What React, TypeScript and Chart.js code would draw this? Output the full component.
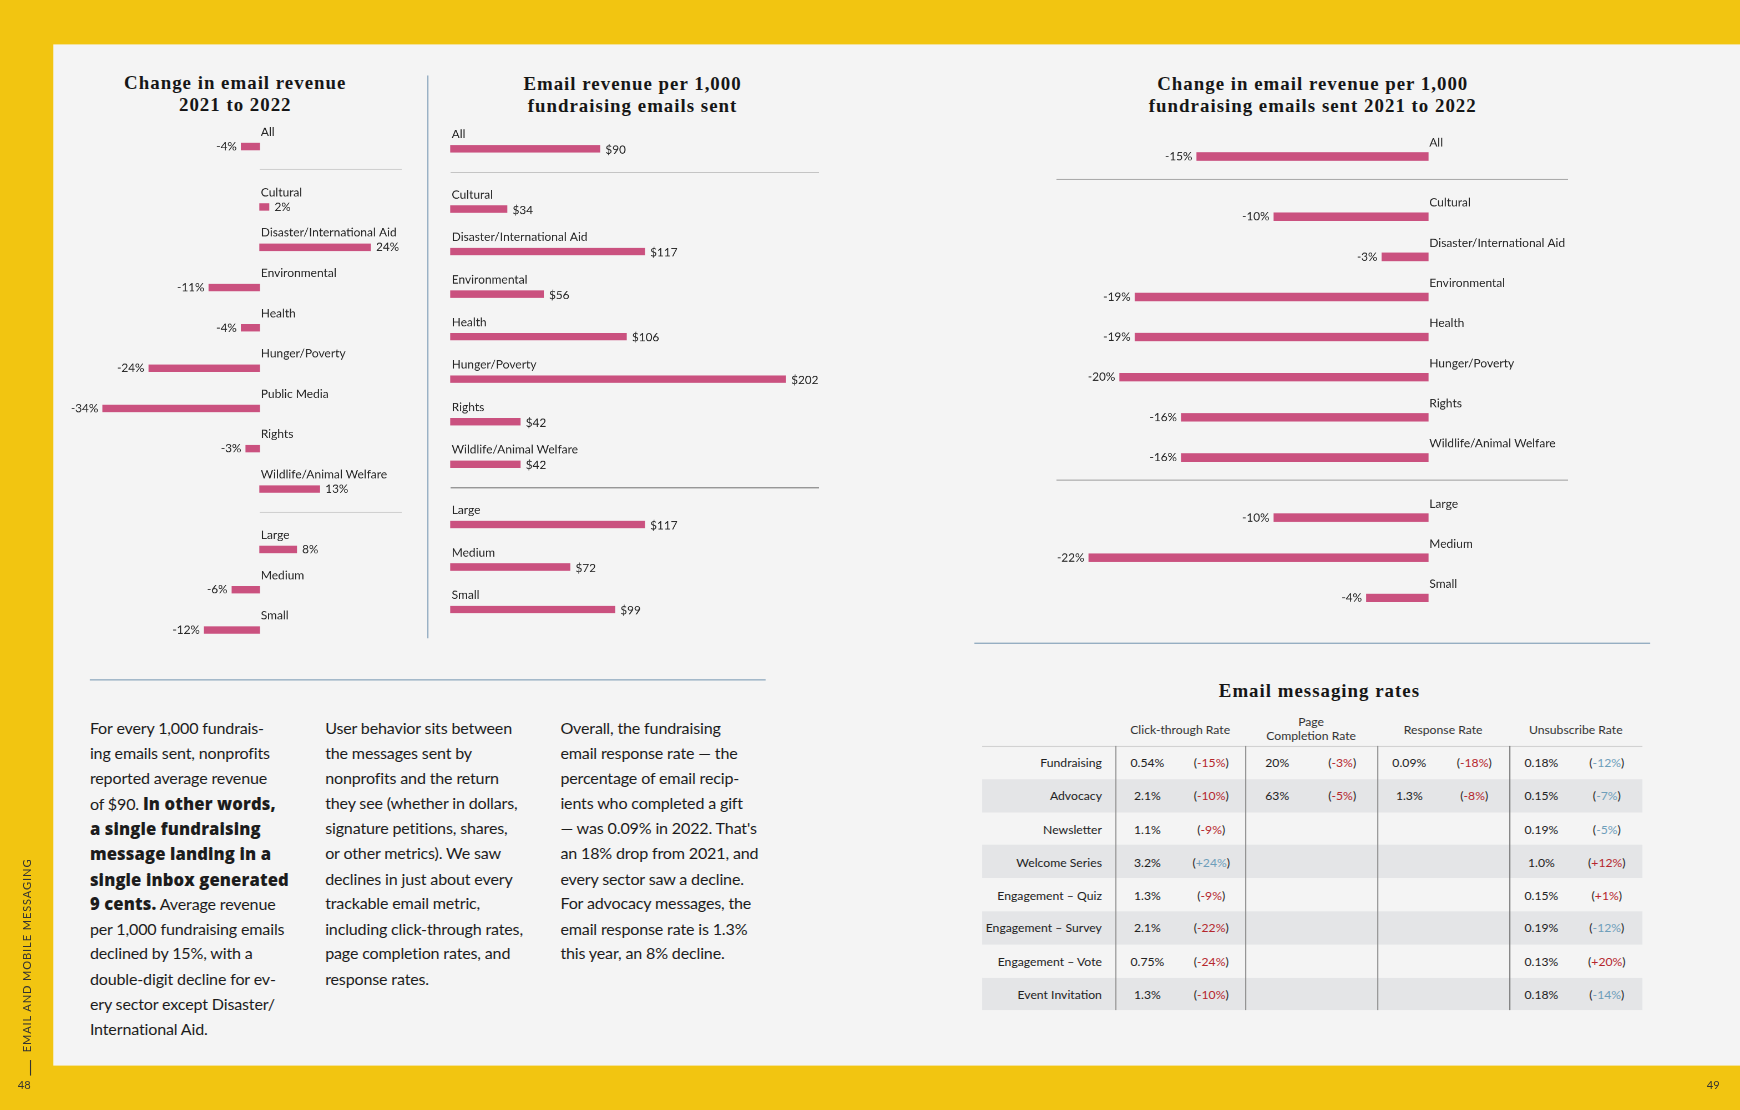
import React, { useEffect, useRef } from "react";
import { Chart, registerables } from "chart.js";
Chart.register(...registerables);

// ---------- DATA ----------
const revenueChangeCategories = [
  "All", "Cultural", "Disaster/International Aid", "Environmental", "Health",
  "Hunger/Poverty", "Public Media", "Rights", "Wildlife/Animal Welfare",
  "Large", "Medium", "Small",
];
const revenueChangeGroups = [0, 1, 1, 1, 1, 1, 1, 1, 1, 2, 2, 2];
const revenueChangeValues = [-4, 2, 24, -11, -4, -24, -34, -3, 13, 8, -6, -12];

const perThousandCategories = [
  "All", "Cultural", "Disaster/International Aid", "Environmental", "Health",
  "Hunger/Poverty", "Rights", "Wildlife/Animal Welfare", "Large", "Medium", "Small",
];
const perThousandGroups = [0, 1, 1, 1, 1, 1, 1, 1, 2, 2, 2];
const perThousandValues = [90, 34, 117, 56, 106, 202, 42, 42, 117, 72, 99];

const perThousandChangeValues = [-15, -10, -3, -19, -19, -20, -16, -16, -10, -22, -4];

const rateRows = [
  "Fundraising", "Advocacy", "Newsletter", "Welcome Series", "Engagement – Quiz",
  "Engagement – Survey", "Engagement – Vote", "Event Invitation",
];
const rateColumns = [["Click-through Rate"], ["Page", "Completion Rate"], ["Response Rate"], ["Unsubscribe Rate"]];
const rateLowerIsBetter = [false, false, false, true];
const clickThroughValues = ["0.54%", "2.1%", "1.1%", "3.2%", "1.3%", "2.1%", "0.75%", "1.3%"];
const clickThroughChanges = [-15, -10, -9, 24, -9, -22, -24, -10];
const pageCompletionValues = ["20%", "63%", null, null, null, null, null, null];
const pageCompletionChanges = [-3, -5, null, null, null, null, null, null];
const responseValues = ["0.09%", "1.3%", null, null, null, null, null, null];
const responseChanges = [-18, -8, null, null, null, null, null, null];
const unsubscribeValues = ["0.18%", "0.15%", "0.19%", "1.0%", "0.15%", "0.19%", "0.13%", "0.18%"];
const unsubscribeChanges = [-12, -7, -5, 12, 1, -12, 20, -14];

// ---------- STYLE ----------
const YELLOW = "#F2C511";
const PAGE = "#F4F4F4";
const BAR = "#CA517F";
const RULE = "#7F9DB6";
const TEXT = "#1c1c1c";
const SANS = "Lato, 'Open Sans', sans-serif";
const BOLD_SANS = "'Open Sans', Lato, sans-serif";
const SERIF = "'Liberation Serif', 'DejaVu Serif', serif";
const RED = "#B5272D";
const BLUE = "#6E9EBA";

type PanelLayout = {
  left: number; top: number; width: number; height: number;
  zeroX: number; unitPx: number; firstBar: number; pitch: number; gap: number;
  barThickness: number; labelOffset: number; valueOffset: number;
  sepX: [number, number]; sepColors: string[]; sepFrac: number;
};

function BarPanel(props: {
  categories: string[]; values: number[]; groups: number[];
  format: (v: number) => string; layout: PanelLayout;
}) {
  const ref = useRef<HTMLCanvasElement>(null);
  const { categories, values, groups, format, layout: L } = props;
  useEffect(() => {
    const positions = groups.map((g, i) => i + g * (L.gap - 1));
    const xMin = (L.left - L.zeroX) / L.unitPx;
    const xMax = (L.left + L.width - L.zeroX) / L.unitPx;
    const yMin = (L.top - L.firstBar) / L.pitch;
    const yMax = (L.top + L.height - L.firstBar) / L.pitch;
    const labelPlugin = {
      id: "rowLabels",
      afterDatasetsDraw(chart: any) {
        const ctx = chart.ctx as CanvasRenderingContext2D;
        const xs = chart.scales.x, ys = chart.scales.y;
        const zero = xs.getPixelForValue(0);
        ctx.save();
        for (let i = 1; i < groups.length; i++) {
          if (groups[i] !== groups[i - 1]) {
            const p = positions[i - 1] + L.sepFrac * (positions[i] - positions[i - 1]);
            const py = Math.round(ys.getPixelForValue(p)) + 0.5;
            ctx.strokeStyle = L.sepColors[groups[i] - 1] || L.sepColors[0];
            ctx.lineWidth = 1;
            ctx.beginPath();
            ctx.moveTo(L.sepX[0] - L.left, py);
            ctx.lineTo(L.sepX[1] - L.left, py);
            ctx.stroke();
          }
        }
        const meta = chart.getDatasetMeta(0);
        meta.data.forEach((_el: any, i: number) => {
          const v = values[i];
          const px = xs.getPixelForValue(v);
          const py = ys.getPixelForValue(positions[i]);
          ctx.fillStyle = "#262626";
          ctx.textBaseline = "middle";
          ctx.font = `10.8px ${SANS}`;
          ctx.textAlign = "left";
          ctx.fillText(categories[i], zero + 1, py + L.labelOffset);
          ctx.font = `10.6px ${SANS}`;
          if (v < 0) {
            ctx.textAlign = "right";
            ctx.fillText(format(v), px - 4, py + L.valueOffset);
          } else {
            ctx.textAlign = "left";
            ctx.fillText(format(v), px + 5, py + L.valueOffset);
          }
        });
        ctx.restore();
      },
    };
    const chart = new Chart(ref.current as HTMLCanvasElement, {
      type: "bar",
      data: {
        datasets: [{
          data: values.map((v, i) => ({ x: v, y: positions[i] })) as any,
          backgroundColor: BAR,
          borderWidth: 0,
          barThickness: L.barThickness,
        }],
      },
      options: {
        indexAxis: "y",
        animation: false,
        responsive: true,
        maintainAspectRatio: false,
        devicePixelRatio: 2,
        events: [],
        layout: { padding: 0 },
        plugins: { legend: { display: false }, tooltip: { enabled: false } },
        scales: {
          x: { type: "linear", min: xMin, max: xMax, display: false, offset: false, grace: 0 },
          y: { type: "linear", reverse: true, min: yMin, max: yMax, display: false, offset: false, grace: 0, grid: { offset: false } },
        },
      } as any,
      plugins: [labelPlugin],
    });
    return () => chart.destroy();
  }, []);
  return (
    <div style={{ position: "absolute", left: L.left, top: L.top, width: L.width, height: L.height }}>
      <canvas ref={ref} />
    </div>
  );
}

const pct = (v: number) => `${v}%`;
const usd = (v: number) => `$${v}`;

function Title(props: { lines: string[]; cx: number; top: number; width: number }) {
  return (
    <div style={{
      position: "absolute", left: props.cx - props.width / 2, top: props.top, width: props.width,
      textAlign: "center", fontFamily: SERIF, fontWeight: 700, fontSize: 17, lineHeight: "20px",
      letterSpacing: 0.9, color: "#161616",
    }}>
      {props.lines.map((l, i) => <div key={i}>{l}</div>)}
    </div>
  );
}

type Seg = [string, boolean];
function TextColumn(props: { lines: Seg[][]; left: number; top: number }) {
  return (
    <div style={{
      position: "absolute", left: props.left, top: props.top, fontFamily: SANS, fontSize: 14.5,
      color: TEXT, whiteSpace: "nowrap", letterSpacing: -0.15,
    }}>
      {props.lines.map((segs, i) => (
        <div key={i} style={{ position: "absolute", left: 0, top: i * 22.6, height: 22.6, lineHeight: "22.6px" }}>
          {segs.map(([t, b], j) => (
            <span key={j} style={b ? { fontFamily: BOLD_SANS, fontWeight: 800, fontSize: 15, letterSpacing: 0.1, lineHeight: "22.6px" } : undefined}>{t}</span>
          ))}
        </div>
      ))}
    </div>
  );
}

const col1: Seg[][] = [
  [["For every 1,000 fundrais-", false]],
  [["ing emails sent, nonprofits", false]],
  [["reported average revenue", false]],
  [["of $90. ", false], ["In other words,", true]],
  [["a single fundraising", true]],
  [["message landing in a", true]],
  [["single inbox generated", true]],
  [["9 cents.", true], [" Average revenue", false]],
  [["per 1,000 fundraising emails", false]],
  [["declined by 15%, with a", false]],
  [["double-digit decline for ev-", false]],
  [["ery sector except Disaster/", false]],
  [["International Aid.", false]],
];
const col2: Seg[][] = [
  "User behavior sits between", "the messages sent by", "nonprofits and the return",
  "they see (whether in dollars,", "signature petitions, shares,", "or other metrics). We saw",
  "declines in just about every", "trackable email metric,", "including click-through rates,",
  "page completion rates, and", "response rates.",
].map((t) => [[t, false] as Seg]);
const col3: Seg[][] = [
  "Overall, the fundraising", "email response rate — the", "percentage of email recip-",
  "ients who completed a gift", "— was 0.09% in 2022. That's", "an 18% drop from 2021, and",
  "every sector saw a decline.", "For advocacy messages, the", "email response rate is 1.3%",
  "this year, an 8% decline.",
].map((t) => [[t, false] as Seg]);

function RatesTable() {
  const colVals = [clickThroughValues, pageCompletionValues, responseValues, unsubscribeValues];
  const colChg = [clickThroughChanges, pageCompletionChanges, responseChanges, unsubscribeChanges];
  const labelW = 120;
  const colW = [117, 119, 119, 120];
  const rowH = 29.8;
  const headH = 32;
  const left = 885, top = 640;
  const totalW = labelW + colW.reduce((a, b) => a + b, 0);
  const cellStyle: React.CSSProperties = { fontFamily: SANS, fontSize: 11, color: "#222" };
  const colLefts = colW.map((_, i) => labelW + colW.slice(0, i).reduce((a, b) => a + b, 0));
  return (
    <div style={{ position: "absolute", left, top, width: totalW, height: headH + rowH * rateRows.length }}>
      {rateColumns.map((lines, c) => (
        <div key={c} style={{
          ...cellStyle, position: "absolute", left: colLefts[c], top: 0, width: colW[c], height: headH,
          display: "flex", flexDirection: "column", justifyContent: "center", alignItems: "center",
          lineHeight: "13px", color: "#333",
        }}>
          {lines.map((l, i) => <div key={i}>{l}</div>)}
        </div>
      ))}
      <div style={{ position: "absolute", left: 0, top: headH, width: totalW, height: 1, background: "#D2D2D2" }} />
      {rateRows.map((r, i) => (
        <div key={r} style={{
          position: "absolute", left: 0, top: headH + i * rowH, width: totalW, height: rowH,
          background: i % 2 === 1 ? "#E4E5E7" : "transparent",
        }}>
          <div style={{
            ...cellStyle, position: "absolute", left: 0, top: 0, width: labelW - 12, height: rowH,
            display: "flex", alignItems: "center", justifyContent: "flex-end",
          }}>{r}</div>
          {colVals.map((vals, c) => {
            const v = vals[i];
            const ch = colChg[c][i];
            if (v == null || ch == null) return null;
            const good = rateLowerIsBetter[c] ? ch < 0 : ch > 0;
            return (
              <div key={c} style={{ position: "absolute", left: colLefts[c], top: 0, width: colW[c], height: rowH }}>
                <div style={{
                  ...cellStyle, position: "absolute", left: 0, top: 0, width: 58, height: rowH,
                  display: "flex", alignItems: "center", justifyContent: "center",
                }}>{v}</div>
                <div style={{
                  ...cellStyle, position: "absolute", left: 56, top: 0, width: colW[c] - 56, height: rowH,
                  display: "flex", alignItems: "center", justifyContent: "center",
                }}>
                  <span>(</span>
                  <span style={{ color: good ? BLUE : RED }}>{`${ch > 0 ? "+" : ""}${ch}%`}</span>
                  <span>)</span>
                </div>
              </div>
            );
          })}
        </div>
      ))}
      {colLefts.map((x, c) => (
        <div key={c} style={{
          position: "absolute", left: x, top: headH, width: 1, height: rowH * rateRows.length,
          background: c === 3 ? "#6f6f6f" : "#8e8e8e",
        }} />
      ))}
    </div>
  );
}

export default function App() {
  useEffect(() => {
    document.body.style.margin = "0";
  }, []);
  const chart1: PanelLayout = {
    left: 60, top: 100, width: 320, height: 490, zeroX: 234, unitPx: 4.16,
    firstBar: 132, pitch: 36.3, gap: 1.5, barThickness: 6, labelOffset: -13, valueOffset: 0,
    sepX: [234, 362], sepColors: ["#D0D0D0", "#D0D0D0"], sepFrac: 0.37,
  };
  const chart2: PanelLayout = {
    left: 396, top: 100, width: 370, height: 490, zeroX: 406, unitPx: 1.495,
    firstBar: 134, pitch: 38.3, gap: 1.42, barThickness: 6, labelOffset: -13, valueOffset: 1,
    sepX: [406, 738], sepColors: ["#C4C4C4", "#8A8A8A"], sepFrac: 0.38,
  };
  const chart3: PanelLayout = {
    left: 930, top: 100, width: 510, height: 490, zeroX: 1287, unitPx: 13.9,
    firstBar: 141, pitch: 36.15, gap: 1.5, barThickness: 7, labelOffset: -12.5, valueOffset: 0,
    sepX: [952, 1413], sepColors: ["#ABABAB", "#ABABAB"], sepFrac: 0.36,
  };
  return (
    <div style={{ position: "fixed", left: 0, top: 0, width: 1740, height: 1110, overflow: "hidden", background: YELLOW }}>
      <div style={{
        position: "absolute", left: 0, top: 0, width: 1568, height: 1000,
        transform: "scale(1.1097, 1.11)", transformOrigin: "0 0",
      }}>
        <div style={{ position: "absolute", left: 48, top: 40, width: 1520, height: 920, background: PAGE }} />

        <Title lines={["Change in email revenue", "2021 to 2022"]} cx={212} top={65} width={320} />
        <Title lines={["Email revenue per 1,000", "fundraising emails sent"]} cx={570} top={66} width={340} />
        <Title lines={["Change in email revenue per 1,000", "fundraising emails sent 2021 to 2022"]} cx={1183} top={66} width={460} />

        <div style={{ position: "absolute", left: 385, top: 68, width: 1, height: 507, background: RULE }} />
        <div style={{ position: "absolute", left: 81, top: 612, width: 609, height: 1, background: RULE }} />
        <div style={{ position: "absolute", left: 878, top: 579, width: 609, height: 1, background: RULE }} />

        <BarPanel categories={revenueChangeCategories} values={revenueChangeValues}
          groups={revenueChangeGroups} format={pct} layout={chart1} />
        <BarPanel categories={perThousandCategories} values={perThousandValues}
          groups={perThousandGroups} format={usd} layout={chart2} />
        <BarPanel categories={perThousandCategories} values={perThousandChangeValues}
          groups={perThousandGroups} format={pct} layout={chart3} />

        <TextColumn lines={col1} left={81} top={645} />
        <TextColumn lines={col2} left={293} top={645} />
        <TextColumn lines={col3} left={505} top={645} />

        <Title lines={["Email messaging rates"]} cx={1189} top={613} width={400} />
        <RatesTable />

        <div style={{
          position: "absolute", left: 18, top: 948, transform: "rotate(-90deg)", transformOrigin: "0 0",
          fontFamily: SANS, fontSize: 10, lineHeight: "12px", letterSpacing: 0.8, color: "#333",
          whiteSpace: "nowrap",
        }}>EMAIL AND MOBILE MESSAGING</div>
        <div style={{ position: "absolute", left: 27, top: 955, width: 1, height: 14, background: "#333" }} />
        <div style={{ position: "absolute", left: 16, top: 971, fontFamily: SANS, fontSize: 10, color: "#333" }}>48</div>
        <div style={{ position: "absolute", left: 1538, top: 971, fontFamily: SANS, fontSize: 10, color: "#333" }}>49</div>
      </div>
    </div>
  );
}
